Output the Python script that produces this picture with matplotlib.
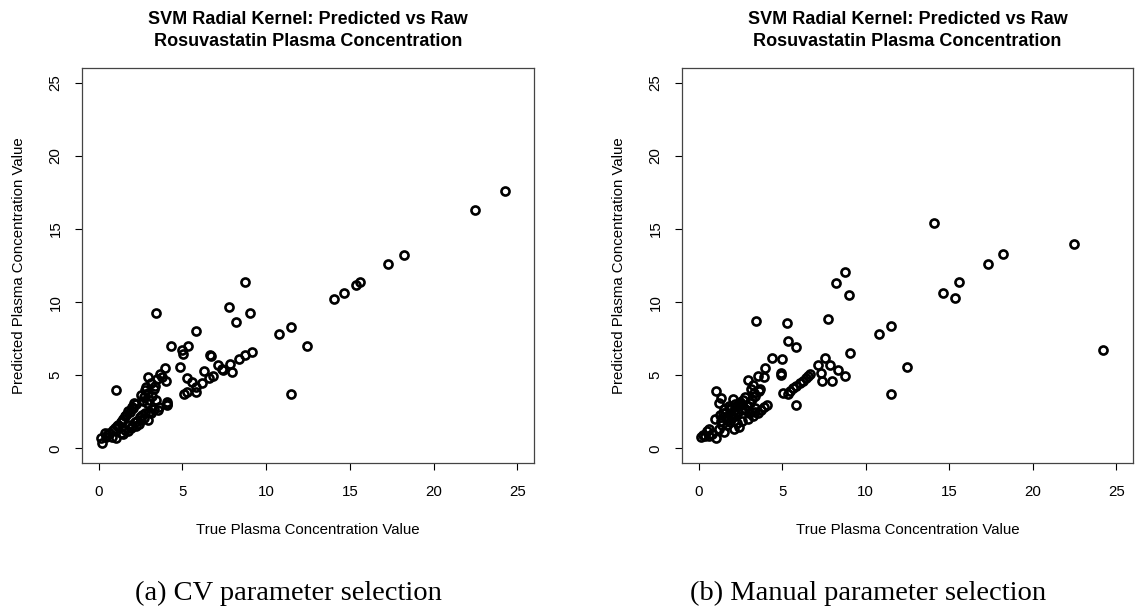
import matplotlib

matplotlib.use("Agg")
import matplotlib.pyplot as plt

plt.rcParams["font.family"] = ["Liberation Sans", "DejaVu Sans"]

# Panel (a): CV parameter selection -- true vs predicted concentration
true_cv = [
    24.25, 22.47, 18.24, 17.3, 15.63, 15.35, 14.63, 14.07, 11.46, 10.76,
    12.46, 11.5, 8.74, 7.76, 9.02, 8.22, 3.45, 5.79, 4.33, 5.33,
    4.97, 5.01, 1.02, 9.14, 8.76, 8.36, 7.84, 7.94, 7.35, 7.45,
    7.13, 6.65, 6.7, 6.31, 6.81, 6.59, 6.15, 5.81, 5.81, 5.57,
    5.27, 5.09, 5.25, 4.83, 3.97, 4.01, 3.63, 2.95, 3.37, 4.09,
    4.05, 3.51, 3.43, 3.15, 2.93, 2.79, 2.89, 2.53, 2.75, 2.97,
    2.46, 2.4,
    2.1, 1.96, 1.76, 1.56, 1.36, 1.16, 0.96, 2.2, 2.05, 1.85,
    1.65, 1.45, 1.3, 1.1, 0.85, 0.6, 0.36, 0.5,
    1.9, 1.46, 1.06, 0.2, 0.12, 0.46, 2.16, 2.3, 1.8, 1.55,
    1.3, 0.8, 2.6, 3.0, 2.2, 2.0, 1.75, 2.5, 2.7, 3.3,
    3.6, 4.1,
    2.7, 3.0, 3.2, 2.85, 3.3, 2.65, 3.1, 3.5, 3.8,
]
pred_cv = [
    17.6, 16.3, 13.23, 12.57, 11.34, 11.14, 10.6, 10.23, 8.31, 7.81,
    6.99, 3.69, 11.37, 9.66, 9.25, 8.66, 9.23, 8.02, 7.02, 6.97,
    6.72, 6.47, 3.99, 6.56, 6.36, 6.08, 5.76, 5.22, 5.4, 5.36,
    5.69, 6.36, 6.3, 5.28, 4.97, 4.78, 4.49, 4.17, 3.87, 4.56,
    4.83, 3.69, 3.83, 5.54, 5.47, 4.6, 5.08, 4.85, 4.26, 3.14,
    2.96, 2.62, 3.3, 2.39, 1.96, 2.39, 3.12, 3.64, 3.99, 3.76,
    2.16, 1.64,
    3.08, 2.85, 2.53, 2.19, 1.85, 1.62, 1.37, 3.0, 2.75, 2.5,
    2.3, 2.0, 1.8, 1.5, 1.25, 1.05, 1.03, 0.9,
    1.37, 0.96, 0.73, 0.34, 0.73, 0.8, 1.8, 1.9, 1.6, 1.25,
    1.05, 0.8, 2.3, 2.5, 1.55, 1.5, 1.2, 1.95, 2.1, 2.7,
    2.8, 3.0,
    3.5, 3.3, 3.6, 4.2, 4.05, 3.25, 4.5, 4.75, 4.9,
]

# Panel (b): manual parameter selection
true_manual = [
    24.2, 22.45, 18.23, 17.29, 14.06, 15.6, 15.34, 14.62, 11.49, 10.78,
    12.47, 11.51, 8.75, 8.23, 9.0, 7.75, 9.08, 7.57, 7.85, 7.15,
    8.35, 7.35, 8.76, 7.41, 7.97, 3.45, 5.28, 5.32, 5.8, 4.36,
    5.0, 4.9, 4.95, 6.67, 6.55, 6.4, 6.25, 6.05, 5.85, 5.65,
    5.45, 5.06, 5.36, 5.82, 3.98, 3.88, 3.55, 2.95, 3.25, 3.67,
    4.08, 1.04, 1.31, 1.24, 2.03, 2.45, 0.98, 1.06, 1.51, 2.43,
    0.14, 0.28, 0.48, 0.62,
    3.08, 3.38, 3.52, 3.24, 2.98, 2.57, 2.78, 2.18, 1.88, 1.64,
    1.72, 2.14, 1.4, 1.25, 1.8, 2.2, 2.6, 3.4, 3.6, 3.3,
    3.15, 1.5, 2.0, 2.35, 2.8, 1.9, 1.6, 2.3, 2.9, 3.7,
    3.9, 1.2, 0.8, 0.6, 0.35, 3.36, 2.07, 2.77, 1.48, 1.88,
    2.5, 2.2, 1.95, 2.65, 3.0, 1.7, 2.4, 3.2, 1.35, 2.1,
]
pred_manual = [
    6.73, 13.94, 13.26, 12.57, 15.4, 11.34, 10.3, 10.64, 8.34, 7.84,
    5.56, 3.71, 12.03, 11.3, 10.46, 8.86, 6.54, 6.15, 5.72, 5.67,
    5.33, 5.17, 4.92, 4.6, 4.6, 8.72, 8.56, 7.33, 6.9, 6.17,
    6.1, 5.03, 5.12, 5.06, 4.92, 4.8, 4.62, 4.45, 4.25, 4.1,
    3.92, 3.76, 3.69, 2.98, 5.47, 4.9, 4.95, 4.67, 4.3, 4.03,
    2.98, 3.9, 3.42, 3.08, 3.35, 3.2, 1.98, 0.73, 1.09, 1.44,
    0.8, 0.9, 1.2, 1.3,
    3.1, 2.75, 2.45, 2.18, 2.0, 1.9, 2.6, 2.35, 2.68, 2.1,
    1.6, 1.3, 1.6, 2.3, 2.9, 3.0, 2.7, 3.6, 3.9, 3.8,
    4.05, 2.7, 2.2, 2.5, 3.5, 1.8, 2.4, 1.7, 2.9, 2.6,
    2.8, 1.3, 1.0, 0.85, 0.85, 2.5, 2.16, 2.66, 2.39, 2.73,
    2.95, 2.8, 2.1, 3.3, 2.45, 1.95, 3.05, 3.35, 1.9, 2.55,
]

TITLE = "SVM Radial Kernel: Predicted vs Raw\nRosuvastatin Plasma Concentration"
XLABEL = "True Plasma Concentration Value"
YLABEL = "Predicted Plasma Concentration Value"
TICKS = [0, 5, 10, 15, 20, 25]

W, H = 1138, 609
fig = plt.figure(figsize=(W / 100, H / 100), dpi=100)


def px_box(left, right, top, bottom):
    return [left / W, 1 - bottom / H, (right - left) / W, (bottom - top) / H]


panels = [
    (px_box(82, 534, 68, 463), true_cv, pred_cv, "(a) CV parameter selection", 288),
    (px_box(682, 1133, 68, 463), true_manual, pred_manual,
     "(b) Manual parameter selection", 868),
]

for rect, xs, ys, caption, cap_x in panels:
    ax = fig.add_axes(rect)
    ax.plot(xs, ys, linestyle="none", marker="o", markersize=5.8,
            markerfacecolor="none", markeredgecolor="black", markeredgewidth=1.9)
    ax.set_xlim(-1, 26)
    ax.set_ylim(-1, 26)
    ax.set_xticks(TICKS)
    ax.set_yticks(TICKS)
    ax.tick_params(direction="out", length=5, width=0.8, labelsize=10.8,
                   color="black")
    ax.tick_params(axis="x", pad=11)
    ax.tick_params(axis="y", pad=9, labelrotation=90)
    for lab in ax.get_yticklabels():
        lab.set_verticalalignment("center")
    for sp in ax.spines.values():
        sp.set_color("#444444")
        sp.set_linewidth(0.9)
    ax.set_xlabel(XLABEL, fontsize=10.8, labelpad=17)
    ax.set_ylabel(YLABEL, fontsize=10.8, labelpad=16)
    ax.set_title(TITLE, fontsize=13, fontweight="bold", pad=16, linespacing=1.35)
    fig.text(cap_x / W, 1 - 593 / H, caption, ha="center", va="center",
             fontsize=20.5, family=["Liberation Serif", "DejaVu Serif"])

fig.savefig("out.png", dpi=100)
